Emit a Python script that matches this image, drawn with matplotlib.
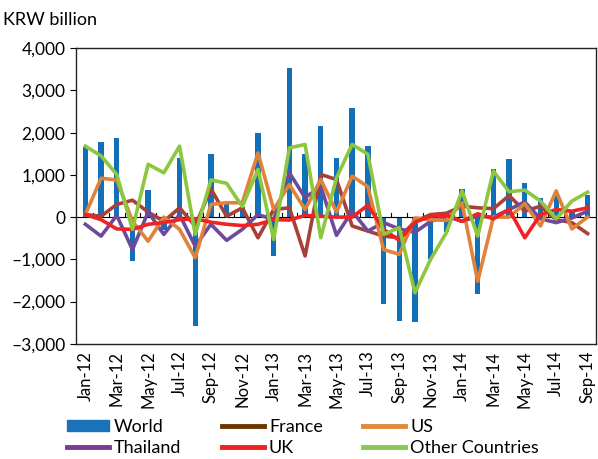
import numpy as np
import matplotlib.pyplot as plt
from matplotlib.lines import Line2D
from matplotlib.patches import Patch
from matplotlib.ticker import FuncFormatter

plt.rcParams['font.family'] = ['Lato', 'DejaVu Sans']

months = ['Jan-12', 'Feb-12', 'Mar-12', 'Apr-12', 'May-12', 'Jun-12', 'Jul-12', 'Aug-12',
          'Sep-12', 'Oct-12', 'Nov-12', 'Dec-12', 'Jan-13', 'Feb-13', 'Mar-13', 'Apr-13',
          'May-13', 'Jun-13', 'Jul-13', 'Aug-13', 'Sep-13', 'Oct-13', 'Nov-13', 'Dec-13',
          'Jan-14', 'Feb-14', 'Mar-14', 'Apr-14', 'May-14', 'Jun-14', 'Jul-14', 'Aug-14',
          'Sep-14']

# KRW billion
world = [1670, 1790, 1870, -1040, 650, -310, 1400, -2580, 1500, 300, 250, 1980,
         -910, 3540, 1500, 2160, 1390, 2580, 1680, -2050, -2450, -2480, -1000, -350,
         670, -1810, 1150, 1370, 800, 460, 540, 150, 520]
france = [60, 20, 300, 400, 120, -100, 220, -210, 670, 20, 220, -490,
          180, 220, -920, 1010, 890, -210, -330, -450, -490, -100, 60, 90,
          260, 220, 200, 510, 140, 260, -60, -130, -390]
us = [60, 920, 880, -100, -570, 0, -290, -960, 300, 340, 340, 1520,
      180, 770, 180, 890, 120, 970, 720, -770, -880, -20, -60, -80,
      340, -1520, 0, 0, 320, -210, 620, -280, 0]
thailand = [-170, -450, 40, -770, 120, -410, 60, -690, -170, -550, -290, 60,
            -60, 1050, 460, 730, -430, 140, -330, -130, -280, -360, -100, 20,
            -100, 20, 0, 180, 360, -40, -130, -20, 140]
uk = [60, -60, -280, -290, -170, -130, -60, -40, -120, -170, -200, -170,
      -60, -70, 40, 20, 0, 0, 280, -290, -550, -120, 20, 50,
      -100, 80, -40, 180, -490, 60, 180, 140, 220]
other = [1680, 1450, 1010, -290, 1250, 1050, 1680, -410, 880, 800, 250, 1130,
         -530, 1640, 1720, -490, 930, 1720, 1490, -410, -250, -1790, -1000, -370,
         620, -450, 1090, 600, 640, 380, -40, 380, 590]

x = np.arange(len(months))

fig = plt.figure(figsize=(5.98, 4.59), dpi=100)
ax = fig.add_axes([0.127, 0.251, 0.870, 0.644])

ax.bar(x, world, width=0.34, color='#1170b8', zorder=2)
ax.axhline(0, color='black', lw=0.8, zorder=3)
# category boundary marks on the zero line
for b in x[:-1] + 0.5:
    ax.plot([b, b], [0, 90], color='black', lw=0.8, zorder=3)

lw = 2.6
ax.plot(x, france, color='#a8403a', lw=lw, zorder=4)
ax.plot(x, us, color='#e0823a', lw=lw, zorder=5)
ax.plot(x, thailand, color='#6e4a9a', lw=lw, zorder=4)
ax.plot(x, uk, color='#ee2424', lw=lw, zorder=6)
ax.plot(x, other, color='#8dc63f', lw=lw, zorder=7)

ax.set_xlim(-0.6, len(months) - 0.45)
ax.set_ylim(-3000, 4000)
ax.set_yticks(range(-3000, 4001, 1000))
ax.yaxis.set_major_formatter(FuncFormatter(lambda v, p: f'{v:,.0f}'.replace('-', '\u2013')))
ax.set_xticks(x[::2])
ax.set_xticklabels(months[::2], rotation=90)
ax.tick_params(axis='x', length=0, pad=5, labelsize=12)
ax.tick_params(axis='y', length=4, width=0.8, labelsize=12.5)
for s in ax.spines.values():
    s.set_linewidth(1.0)
    s.set_color('#222222')

fig.text(0.005, 0.957, 'KRW billion', fontsize=13, va='center', ha='left')

handles = [Patch(color='#1a72bb'),
           Line2D([], [], color='#7a3a9a', lw=3.5),
           Line2D([], [], color='#6b3300', lw=3.5),
           Line2D([], [], color='#ee2020', lw=3.5),
           Line2D([], [], color='#e08a3a', lw=3.5),
           Line2D([], [], color='#8cc74f', lw=3.5)]
labels = ['World', 'Thailand', 'France', 'UK', 'US', 'Other Countries']
fig.legend(handles, labels, ncol=3, loc='lower left', bbox_to_anchor=(0.085, -0.028),
           frameon=False, fontsize=13, handlelength=2.3, handleheight=0.55,
           columnspacing=2.25, labelspacing=0.28, handletextpad=0.3)

fig.savefig('out.png', dpi=100)
